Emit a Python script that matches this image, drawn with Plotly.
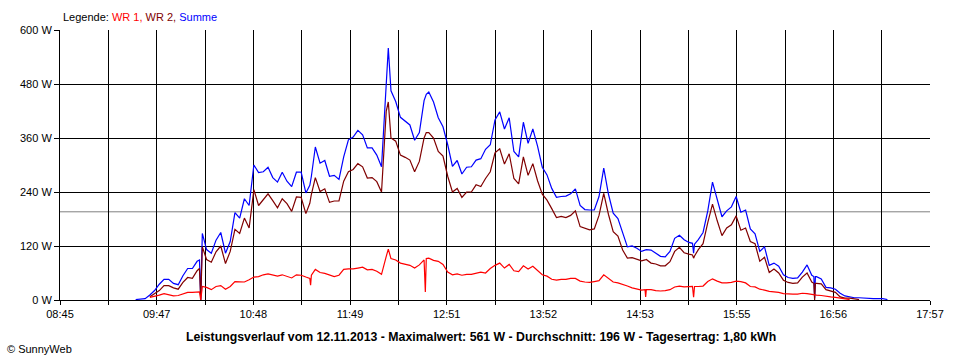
import plotly.graph_objects as go

# time of each sample, minutes after midnight (12.11.2013)
times = [
    573, 576, 579, 582, 585, 588, 591, 594, 597, 600,
    603, 606, 609, 612, 613.5, 614.3, 615.3, 618, 621, 624,
    627, 630, 633, 636, 639, 642, 645, 648, 651, 654,
    657, 660, 663, 666, 669, 672, 675, 678, 681, 683.5,
    684, 684.5, 687, 690, 693, 696, 699, 702, 705, 708,
    711, 714, 717, 720, 723, 726, 729, 732, 733.3, 735,
    738, 741, 744, 747, 750, 753, 756, 756.8, 757.4, 759,
    762, 765, 768, 771, 774, 777, 780, 783, 786, 789,
    792, 795, 798, 801, 804, 807, 810, 813, 816, 819,
    822, 825, 828, 831, 834, 837, 840, 843, 846, 849,
    852, 855, 858, 861, 864, 867, 870, 873, 876, 879,
    882, 885, 888, 891, 894, 896.2, 896.6, 897, 900, 903,
    906, 909, 912, 915, 918, 921, 924, 926.3, 927, 927.6,
    930, 933, 936, 939, 942, 945, 948, 951, 954, 957,
    960, 963, 966, 969, 972, 975, 978, 981, 984, 987,
    990, 993, 996, 999, 1002, 1003.3, 1003.8, 1004.3, 1005, 1008,
    1011, 1014, 1017, 1020, 1023, 1026, 1029, 1032, 1035, 1038,
    1041, 1044, 1047, 1050,
]

summe = [
    1, 2, 3, 11, 21, 35, 46, 46, 37, 34,
    54, 70, 70, 86, 89, 0, 148, 112, 104, 133,
    150, 104, 130, 194, 182, 225, 210, 300, 283, 285,
    295, 272, 262, 284, 264, 252, 284, 284, 238, 255,
    265, 275, 340, 304, 310, 275, 277, 268, 318, 356,
    362, 377, 367, 338, 338, 322, 296, 495, 560, 465,
    441, 406, 398, 389, 355, 372, 443, 452, 457, 462,
    440, 405, 385, 345, 297, 310, 280, 295, 296, 311,
    314, 335, 345, 400, 418, 380, 405, 330, 318, 395,
    348, 380, 342, 295, 278, 248, 228, 230, 231, 236,
    247, 210, 201, 200, 200, 230, 293, 235, 193, 181,
    147, 118, 120, 115, 108, 112, 112, 112, 111, 103,
    97, 96, 108, 137, 144, 134, 128, 126, 104, 124,
    134, 150, 198, 262, 225, 185, 198, 207, 230, 195,
    200, 158, 147, 108, 118, 77, 82, 75, 56, 50,
    48, 49, 62, 78, 55, 52, 4, 52, 52, 47,
    28, 27, 24, 15, 9, 7, 5, 5, 4, 3,
    3, 3, 3, 1,
]

wr2 = [
    None, None, None, 7, 14, 21, 32, 32, 27, 24,
    39, 50, 48, 65, 70, 0, 118, 90, 84, 107,
    120, 81, 108, 157, 148, 182, 160, 245, 210, 222,
    236, 221, 205, 225, 214, 197, 229, 228, 192, 215,
    225, 235, 272, 241, 247, 217, 220, 220, 264, 285,
    290, 303, 296, 271, 272, 263, 240, 420, 440, 360,
    353, 322, 317, 311, 285, 308, 360, 367, 372, 372,
    360, 330, 320, 275, 240, 248, 228, 240, 240, 256,
    252, 270, 285, 327, 336, 302, 325, 270, 258, 318,
    277, 303, 265, 235, 222, 203, 183, 186, 183, 188,
    198, 163, 160, 156, 158, 188, 237, 190, 152, 142,
    111, 93, 94, 90, 87, 89, 89, 90, 82, 80,
    76, 76, 85, 108, 117, 105, 102, 100, 93, 98,
    112, 125, 172, 213, 176, 143, 160, 167, 187, 155,
    160, 130, 125, 86, 95, 61, 69, 60, 44, 39,
    37, 38, 51, 60, 40, 37, 0, 37, 37, 36,
    23, 20, 17, 7, 4, 4, 2, 1, None, None,
    None, None, None, None,
]

wr1 = [
    None, None, None, 6, 8, 11, 14, 11, 9, 10,
    13, 17, 17, 17, 18, 0, 30, 28, 23, 30,
    32, 24, 30, 41, 41, 40, 45, 51, 52, 56,
    58, 55, 53, 56, 53, 49, 56, 55, 51, 48,
    33, 55, 68, 61, 59, 56, 52, 55, 68, 69,
    69, 71, 73, 67, 68, 64, 57, 97, 113, 92,
    89, 82, 80, 77, 71, 78, 89, 18, 92, 93,
    88, 86, 79, 62, 56, 58, 55, 57, 57, 59,
    62, 60, 70, 77, 82, 71, 79, 65, 63, 76,
    69, 75, 66, 56, 53, 46, 44, 46, 46, 48,
    48, 42, 40, 39, 41, 43, 56, 49, 40, 38,
    35, 31, 27, 24, 22, 23, 7, 23, 23, 21,
    20, 21, 23, 29, 31, 29, 30, 30, 6, 30,
    30, 31, 41, 47, 42, 38, 38, 39, 42, 41,
    38, 30, 29, 24, 22, 19, 18, 17, 14, 13,
    13, 13, 15, 14, 12, 11, 11, 11, 11, 10,
    8, 7, 6, 4, 2, 1, None, None, None, None,
    None, None, None, None,
]

average_w = 196
x_labels = ["08:45", "09:47", "10:48", "11:49", "12:51",
            "13:52", "14:53", "15:55", "16:56", "17:57"]
y_values = [0, 120, 240, 360, 480, 600]
y_labels = ["0 W", "120 W", "240 W", "360 W", "480 W", "600 W"]

x_start, x_end = 525, 1077
n_ticks = 2 * (len(x_labels) - 1)
step = (x_end - x_start) / n_ticks
x_tickvals = [x_start + i * step for i in range(n_ticks + 1)]
x_ticktext = [x_labels[i // 2] if i % 2 == 0 else "" for i in range(n_ticks + 1)]

FONT = "Liberation Sans, Arial, sans-serif"

fig = go.Figure()
for name, vals, color in [("Summe", summe, "#0000FF"),
                          ("WR 2", wr2, "#800000"),
                          ("WR 1", wr1, "#FF0000")]:
    fig.add_trace(go.Scatter(x=times, y=vals, mode="lines", name=name,
                             line=dict(color=color, width=1.2),
                             connectgaps=False, showlegend=False))

fig.add_shape(type="line", xref="paper", x0=0, x1=1, yref="y",
              y0=average_w, y1=average_w,
              line=dict(color="#808080", width=1), layer="below")

fig.update_layout(
    width=960, height=360,
    margin=dict(l=60, r=30, t=30, b=60),
    paper_bgcolor="white", plot_bgcolor="white",
    font=dict(family=FONT, size=11, color="black"),
    xaxis=dict(range=[x_start, x_end], tickmode="array",
               tickvals=x_tickvals, ticktext=x_ticktext,
               ticks="outside", ticklen=4, tickcolor="black", tickwidth=1,
               showgrid=True, gridcolor="black", gridwidth=1,
               showline=True, linecolor="black", linewidth=1,
               zeroline=False, tickfont=dict(family=FONT, size=11, color="black")),
    yaxis=dict(range=[0, 600], tickmode="array",
               tickvals=y_values, ticktext=y_labels,
               ticks="outside", ticklen=5, tickcolor="black", tickwidth=1,
               showgrid=True, gridcolor="black", gridwidth=1,
               showline=True, linecolor="black", linewidth=1,
               zeroline=False, tickfont=dict(family=FONT, size=11, color="black")),
    annotations=[
        dict(xref="paper", yref="paper", x=(61 - 60) / 870, y=(300 - 17) / 270,
             xanchor="left", yanchor="middle", showarrow=False,
             text="Legende: <span style='color:#FF0000'>WR 1, </span>"
                  "<span style='color:#800000'>WR 2, </span>"
                  "<span style='color:#0000FF'>Summe</span>",
             font=dict(family=FONT, size=11, color="black")),
        dict(xref="paper", yref="paper", x=(480.5 - 60) / 870, y=(300 - 337) / 270,
             xanchor="center", yanchor="middle", showarrow=False,
             text="<b>Leistungsverlauf vom 12.11.2013 - Maximalwert: 561 W - "
                  "Durchschnitt: 196 W - Tagesertrag: 1,80 kWh</b>",
             font=dict(family=FONT, size=12.3, color="black")),
        dict(xref="paper", yref="paper", x=(5 - 60) / 870, y=(300 - 349) / 270,
             xanchor="left", yanchor="middle", showarrow=False,
             text="© SunnyWeb", font=dict(family=FONT, size=11, color="black")),
    ],
)

fig.write_html("out.html", config={"displayModeBar": False},
               post_script="document.body.style.margin='0px';")
